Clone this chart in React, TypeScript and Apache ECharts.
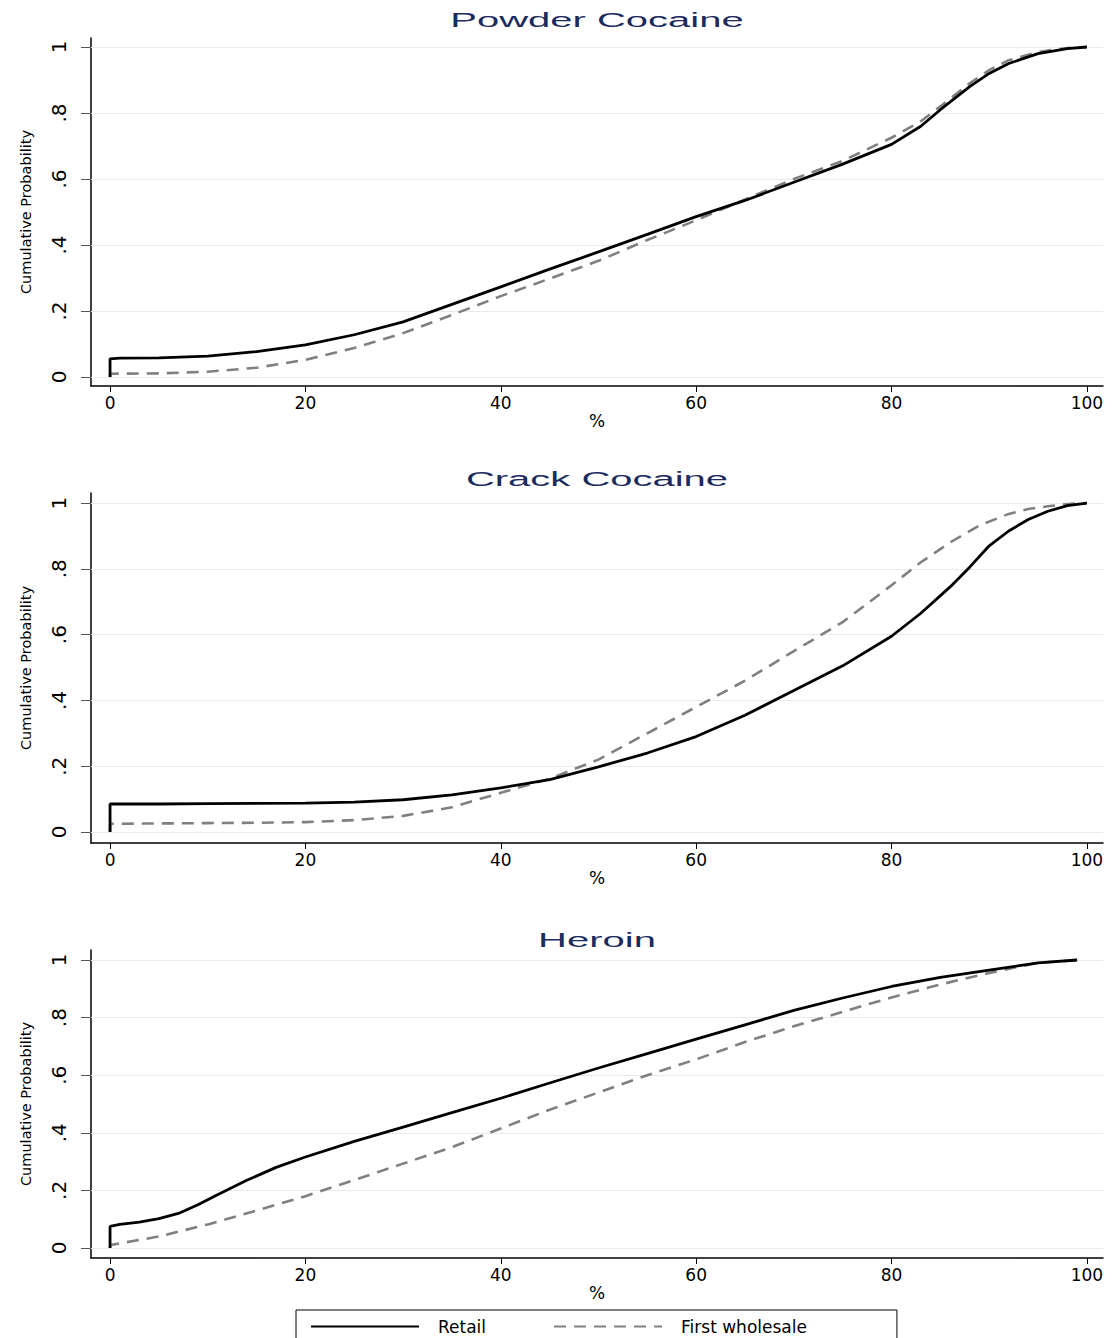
import React, { useEffect, useRef } from 'react';
import * as echarts from 'echarts';

// ---------- data ----------
const panelTitles = ['Powder Cocaine', 'Crack Cocaine', 'Heroin'];
const seriesNames = ['Retail', 'First wholesale'];
const xTicks = [0, 20, 40, 60, 80, 100];
const yTicks = [0, 0.2, 0.4, 0.6, 0.8, 1];
const xAxisTitle = '%';
const yAxisTitle = 'Cumulative Probability';

// Powder cocaine
const powderRetailX = [0, 0, 1, 5, 10, 15, 20, 25, 30, 35, 40, 45, 50, 55, 60, 65, 70, 75, 80, 83, 85, 88, 90, 92, 95, 98, 100];
const powderRetailY = [0, 0.055, 0.057, 0.058, 0.063, 0.077, 0.097, 0.128, 0.167, 0.22, 0.273, 0.327, 0.379, 0.432, 0.486, 0.535, 0.59, 0.645, 0.705, 0.76, 0.81, 0.88, 0.92, 0.95, 0.98, 0.995, 1.0];
const powderWholesaleX = [0, 0, 5, 10, 15, 20, 25, 30, 35, 40, 45, 50, 55, 60, 65, 70, 75, 80, 83, 85, 88, 90, 92, 95, 98, 100];
const powderWholesaleY = [0, 0.01, 0.011, 0.016, 0.028, 0.052, 0.088, 0.133, 0.188, 0.245, 0.298, 0.352, 0.415, 0.475, 0.538, 0.6, 0.655, 0.725, 0.775, 0.82, 0.89, 0.93, 0.96, 0.985, 0.997, 1.0];

// Crack cocaine
const crackRetailX = [0, 0, 5, 10, 15, 20, 25, 30, 35, 40, 45, 50, 55, 60, 65, 70, 75, 80, 83, 86, 88, 90, 92, 94, 96, 98, 100];
const crackRetailY = [0, 0.085, 0.085, 0.086, 0.087, 0.088, 0.091, 0.098, 0.113, 0.134, 0.159, 0.198, 0.24, 0.29, 0.355, 0.43, 0.505, 0.595, 0.665, 0.745, 0.805, 0.87, 0.915, 0.95, 0.975, 0.992, 1.0];
const crackWholesaleX = [0, 0, 5, 10, 15, 20, 25, 30, 35, 40, 45, 50, 55, 60, 65, 70, 75, 80, 83, 86, 89, 92, 94, 96, 98, 100];
const crackWholesaleY = [0, 0.025, 0.026, 0.027, 0.028, 0.03, 0.036, 0.049, 0.075, 0.119, 0.162, 0.22, 0.3, 0.38, 0.46, 0.55, 0.638, 0.75, 0.82, 0.88, 0.932, 0.967, 0.982, 0.99, 0.997, 1.0];

// Heroin
const heroinRetailX = [0, 0, 1, 3, 5, 7, 9, 11, 14, 17, 20, 25, 30, 35, 40, 45, 50, 55, 60, 65, 70, 75, 80, 85, 90, 95, 99];
const heroinRetailY = [0, 0.075, 0.082, 0.09, 0.102, 0.12, 0.15, 0.185, 0.235, 0.28, 0.316, 0.37, 0.42, 0.47, 0.52, 0.573, 0.625, 0.675, 0.725, 0.775, 0.825, 0.868, 0.908, 0.94, 0.965, 0.99, 1.0];
const heroinWholesaleX = [0, 0, 5, 10, 15, 20, 25, 30, 35, 40, 45, 50, 55, 60, 65, 70, 75, 80, 85, 90, 95, 99];
const heroinWholesaleY = [0, 0.01, 0.04, 0.082, 0.13, 0.18, 0.236, 0.293, 0.35, 0.415, 0.48, 0.54, 0.6, 0.655, 0.715, 0.77, 0.82, 0.87, 0.915, 0.955, 0.99, 1.0];

const retailData = [
  [powderRetailX, powderRetailY],
  [crackRetailX, crackRetailY],
  [heroinRetailX, heroinRetailY],
];
const wholesaleData = [
  [powderWholesaleX, powderWholesaleY],
  [crackWholesaleX, crackWholesaleY],
  [heroinWholesaleX, heroinWholesaleY],
];

const zip = (xs: number[], ys: number[]) => xs.map((x, i) => [x, ys[i]]);

// ---------- layout ----------
const W = 1115;
const H = 1338;
const grids = [
  { left: 91, top: 38, width: 1012, height: 348 },
  { left: 91, top: 493, width: 1012, height: 350 },
  { left: 91, top: 950, width: 1012, height: 308 },
];
const yRanges = [
  [-0.0273, 1.0273],
  [-0.0335, 1.0305],
  [-0.0347, 1.0347],
];
const titleY = [20, 479, 940];

const WIDE = '"DejaVu Sans", Verdana, sans-serif';

const yFmt = (v: number) => {
  if (Math.abs(v) < 1e-9) return '0';
  if (Math.abs(v - 1) < 1e-9) return '1';
  return Number(v.toFixed(1)).toString().replace(/^0/, '');
};

export default function App() {
  const ref = useRef<HTMLDivElement>(null);

  useEffect(() => {
    if (!ref.current) return;
    const chart = echarts.init(ref.current, undefined, { renderer: 'svg', width: W, height: H });

    const xAxis = grids.map((_, i) => ({
      type: 'value',
      gridIndex: i,
      min: -1.95,
      max: 101.65,
      axisLine: { show: true, onZero: false, lineStyle: { color: '#000', width: 1.5 } },
      axisTick: { show: true, customValues: xTicks, length: 6, lineStyle: { color: '#000', width: 1 } },
      axisLabel: { show: true, customValues: xTicks, margin: 8, color: '#000', fontFamily: WIDE, fontSize: 17 },
      splitLine: { show: false },
      name: xAxisTitle,
      nameLocation: 'middle',
      nameGap: 26,
      nameTextStyle: { color: '#000', fontFamily: WIDE, fontSize: 17 },
    }));

    const yAxis = grids.map((_, i) => ({
      type: 'value',
      gridIndex: i,
      min: yRanges[i][0],
      max: yRanges[i][1],
      axisLine: { show: true, onZero: false, lineStyle: { color: '#000', width: 1.5 } },
      axisTick: { show: true, customValues: yTicks, length: 10, lineStyle: { color: '#555', width: 1 } },
      axisLabel: {
        show: true,
        customValues: yTicks,
        rotate: 90,
        margin: 22,
        color: '#000',
        fontFamily: WIDE,
        fontSize: 20,
        formatter: yFmt,
      },
      splitLine: { show: false },
      name: yAxisTitle,
      nameLocation: 'middle',
      nameGap: 58,
      nameTextStyle: { color: '#000', fontFamily: WIDE, fontSize: 14.5 },
    }));

    const series: any[] = [];
    grids.forEach((_, i) => {
      series.push({
        type: 'line',
        name: seriesNames[1],
        xAxisIndex: i,
        yAxisIndex: i,
        data: zip(wholesaleData[i][0], wholesaleData[i][1]),
        symbol: 'none',
        showSymbol: false,
        z: 2,
        lineStyle: { color: '#808080', width: 2.6, type: [12, 8] },
        itemStyle: { color: '#808080' },
        markLine: {
          silent: true,
          z: 1,
          symbol: ['none', 'none'],
          label: { show: false },
          lineStyle: { color: '#e3edef', width: 1, type: 'solid' },
          emphasis: { disabled: true },
          data: yTicks.map((v) => ({ yAxis: v })),
        },
      });
      series.push({
        type: 'line',
        name: seriesNames[0],
        xAxisIndex: i,
        yAxisIndex: i,
        data: zip(retailData[i][0], retailData[i][1]),
        symbol: 'none',
        showSymbol: false,
        z: 3,
        lineStyle: { color: '#000', width: 2.8, type: 'solid' },
        itemStyle: { color: '#000' },
      });
    });

    const option: any = {
      animation: false,
      backgroundColor: '#fff',
      grid: grids.map((g) => ({ ...g, containLabel: false })),
      xAxis,
      yAxis,
      series,
      legend: {
        data: seriesNames,
        left: 296,
        top: 1310,
        orient: 'horizontal',
        padding: [8, 90, 8, 14],
        itemWidth: 108,
        itemHeight: 14,
        itemGap: 67,
        borderColor: '#000',
        borderWidth: 1,
        borderRadius: 0,
        backgroundColor: '#fff',
        selectedMode: false,
        itemStyle: { opacity: 0 },
        textStyle: { color: '#000', fontFamily: WIDE, fontSize: 17, padding: [0, 0, 0, 14] },
      },
      graphic: panelTitles.map((t, i) => ({
        type: 'text',
        x: 597,
        y: titleY[i],
        scaleX: 2.0,
        silent: true,
        style: {
          text: t,
          fill: '#1c2b5e',
          fontSize: 20,
          fontFamily: '"Liberation Sans", Arial, sans-serif',
          align: 'center',
          verticalAlign: 'middle',
        },
      })),
    };

    chart.setOption(option);
    return () => chart.dispose();
  }, []);

  return <div ref={ref} style={{ position: 'absolute', left: 0, top: 0, width: W, height: H, background: '#fff' }} />;
}
